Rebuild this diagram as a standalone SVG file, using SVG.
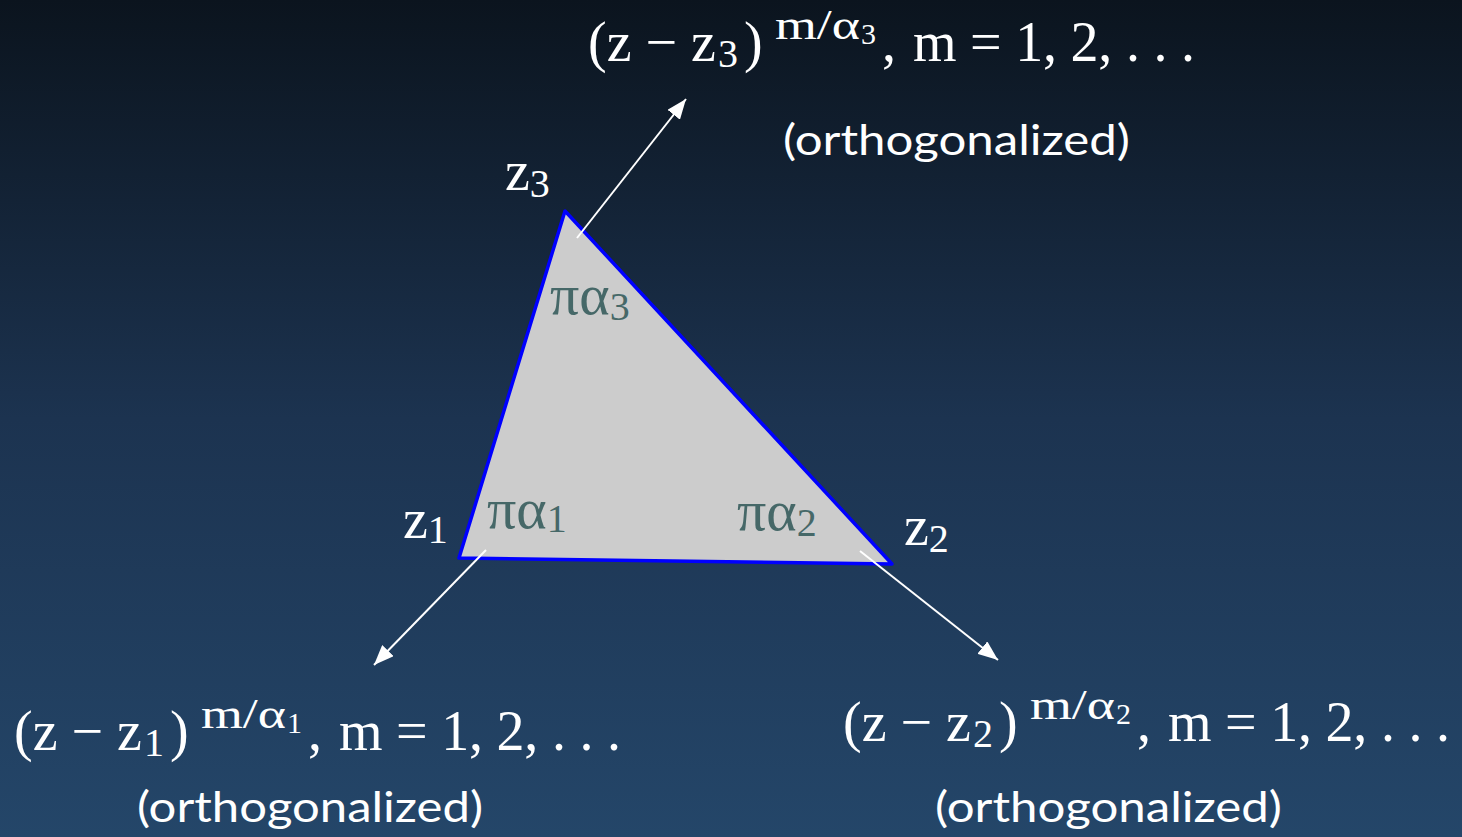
<svg xmlns="http://www.w3.org/2000/svg" width="1462" height="837" viewBox="0 0 1462 837">
<defs>
<linearGradient id="bg" x1="0" y1="0" x2="0" y2="1">
<stop offset="0" stop-color="#0b141e"/>
<stop offset="0.5" stop-color="#1c3350"/>
<stop offset="1" stop-color="#244669"/>
</linearGradient>
<marker id="ah" viewBox="0 0 20 16" refX="20" refY="8" markerWidth="20" markerHeight="16" markerUnits="userSpaceOnUse" orient="auto">
<path d="M0,0 L20,8 L0,16 z" fill="#ffffff"/>
</marker>
<style>
.math{font-family:"Liberation Serif","DejaVu Serif",serif;fill:#ffffff;}
.ang{font-family:"Liberation Serif","DejaVu Serif",serif;fill:#466868;}
.sans{font-family:"Lato","Open Sans",sans-serif;fill:#ffffff;}
.conn{stroke:#ffffff;stroke-width:2;fill:none;marker-end:url(#ah);}
.big{font-size:56px;}
.sub{font-size:40px;}
.sup{font-size:42px;}
.supsub{font-size:30px;}
</style>
</defs>
<rect x="0" y="0" width="1462" height="837" fill="url(#bg)"/>
<g id="triangle">
<polygon points="459,558 892,564 565,211" fill="#cccccc" stroke="#0000ff" stroke-width="3.5" stroke-linejoin="round"/>
<text class="ang" x="550" y="314" font-size="58">πα<tspan font-size="40" dy="6">3</tspan></text>
<text class="ang" x="487" y="528" font-size="58">πα<tspan font-size="40" dy="4">1</tspan></text>
<text class="ang" x="737" y="530" font-size="58">πα<tspan font-size="40" dy="6">2</tspan></text>
</g>
<g id="vertex-labels">
<text class="math" x="505" y="190" font-size="56">z<tspan font-size="40" dy="7">3</tspan></text>
<text class="math" x="403" y="538" font-size="56">z<tspan font-size="40" dy="5">1</tspan></text>
<text class="math" x="904" y="545" font-size="56">z<tspan font-size="40" dy="7">2</tspan></text>
</g>
<g id="connectors">
<line class="conn" x1="577" y1="238" x2="686" y2="99"/>
<line class="conn" x1="486" y1="550" x2="374" y2="665"/>
<line class="conn" x1="860" y1="551" x2="998" y2="660"/>
</g>
<g id="label-z3">
<text class="math big" x="588" y="61">(z − z</text>
<text class="math sub" x="718" y="67">3</text>
<text class="math big" x="744" y="61">)</text>
<text class="math sup" x="775" y="39" textLength="85" lengthAdjust="spacingAndGlyphs">m/α</text>
<text class="math supsub" x="861" y="44">3</text>
<text class="math big" x="882" y="61">,</text>
<text class="math big" x="913" y="61" textLength="282" lengthAdjust="spacing">m = 1, 2, . . .</text>
<text class="sans" x="783" y="155" font-size="42" textLength="347" lengthAdjust="spacingAndGlyphs">(orthogonalized)</text>
</g>
<g id="label-z1" transform="translate(-574,689)">
<text class="math big" x="588" y="61">(z − z</text>
<text class="math sub" x="718" y="67">1</text>
<text class="math big" x="744" y="61">)</text>
<text class="math sup" x="775" y="39" textLength="85" lengthAdjust="spacingAndGlyphs">m/α</text>
<text class="math supsub" x="861" y="44">1</text>
<text class="math big" x="882" y="61">,</text>
<text class="math big" x="913" y="61" textLength="282" lengthAdjust="spacing">m = 1, 2, . . .</text>
</g>
<g id="label-z1-note">
<text class="sans" x="137" y="822" font-size="42" textLength="346" lengthAdjust="spacingAndGlyphs">(orthogonalized)</text>
</g>
<g id="label-z2" transform="translate(255,680)">
<text class="math big" x="588" y="61">(z − z</text>
<text class="math sub" x="718" y="67">2</text>
<text class="math big" x="744" y="61">)</text>
<text class="math sup" x="775" y="39" textLength="85" lengthAdjust="spacingAndGlyphs">m/α</text>
<text class="math supsub" x="861" y="44">2</text>
<text class="math big" x="882" y="61">,</text>
<text class="math big" x="913" y="61" textLength="282" lengthAdjust="spacing">m = 1, 2, . . .</text>
</g>
<g id="label-z2-note">
<text class="sans" x="935" y="822" font-size="42" textLength="347" lengthAdjust="spacingAndGlyphs">(orthogonalized)</text>
</g>
</svg>
